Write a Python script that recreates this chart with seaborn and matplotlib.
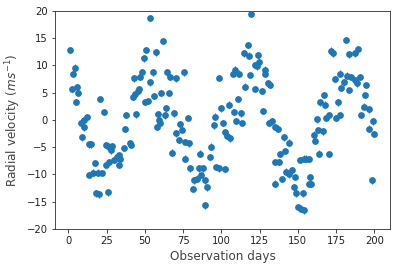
import numpy as np
import pandas as pd
import matplotlib
matplotlib.use("Agg")
import matplotlib.pyplot as plt
import seaborn as sns

days = [0.9, 2.0, 2.8, 4.1, 4.8, 5.5, 6.5, 8.3, 8.7, 10.0, 10.0, 11.8, 13.3, 13.7,
        14.6, 15.9, 17.2, 18.1, 19.4, 19.8, 20.9, 22.0, 23.0, 24.2, 24.6, 25.7,
        26.3, 26.3, 27.5, 28.6, 29.6, 31.8, 32.9, 32.9, 34.0, 36.1, 36.8, 37.9,
        39.9, 41.2, 42.0, 42.7, 43.8, 44.0, 45.5, 46.4, 47.0, 48.2, 49.5, 50.0,
        50.5, 51.8, 53.1, 53.6, 55.1, 55.8, 56.9, 58.0, 58.6, 59.5, 60.1, 60.8,
        61.6, 62.9, 64.0, 64.5, 65.6, 66.7, 67.8, 68.8, 70.4, 70.4, 72.1, 72.7,
        74.3, 75.4, 76.0, 76.5, 78.0, 78.6, 79.7, 81.2, 81.9, 84.1, 85.2, 85.8,
        86.9, 88.0, 89.1, 89.5, 90.6, 92.8, 93.5, 95.0, 95.6, 96.5, 98.2, 98.7,
        100.0, 100.8, 102.2, 102.2, 103.7, 104.8, 105.9, 107.4, 108.0, 109.2,
        109.6, 110.7, 111.8, 113.1, 113.5, 114.6, 115.7, 117.2, 117.8, 118.9,
        119.6, 121.8, 121.8, 123.3, 123.7, 124.8, 126.6, 127.0, 128.3, 128.8,
        130.3, 130.9, 132.0, 133.1, 134.8, 135.3, 135.3, 137.0, 137.9, 138.6,
        139.7, 140.7, 141.8, 142.3, 144.4, 144.4, 146.2, 147.3, 147.9, 148.8,
        150.1, 151.6, 152.3, 153.1, 153.8, 153.8, 155.6, 157.1, 157.1, 158.2,
        158.8, 160.3, 161.0, 162.5, 163.2, 163.6, 164.7, 166.2, 166.9, 168.0,
        168.6, 170.1, 170.6, 172.0, 173.0, 174.1, 174.9, 176.0, 177.3, 177.8,
        178.4, 179.9, 181.5, 182.1, 183.2, 183.7, 185.0, 187.1, 187.1, 188.7,
        189.3, 190.8, 191.5, 193.0, 193.7, 194.8, 196.3, 196.7, 198.5, 198.9,
        200.0]

velocity = [12.8, 5.7, 8.5, 9.6, 3.3, 6.0, 5.0, -0.5, -3.2, 0.0, -1.4, 0.5, -4.5, -10.1,
            -4.5, -9.7, -7.9, -13.5, -9.7, -13.7, 3.8, -9.8, 1.4, -8.3, -4.6, -13.3,
            -4.9, -7.7, -5.6, -4.8, -7.4, -6.8, -6.5, -8.3, -7.2, -5.2, -1.7, 0.9,
            -4.3, -4.6, 4.2, 7.6, 4.7, 1.0, 5.3, 5.7, 7.9, 8.8, 11.3, 3.3,
            12.8, 3.5, 6.9, 18.7, 8.7, 4.4, 12.4, -1.3, 1.0, 0.0, -0.6, 4.9,
            14.5, 0.8, 2.1, 8.7, 4.9, 7.9, -6.0, 1.2, 7.6, -2.5, -3.7, -0.8,
            -1.9, 8.7, -7.1, -4.1, 0.3, -4.3, -8.9, -12.7, -11.1, -10.8, -8.9, -6.2,
            -10.1, -8.9, -11.1, -15.7, -12.4, -6.8, -4.9, -1.0, 0.6, -8.7, -8.9, 7.7,
            2.1, -0.6, -2.2, -9.0, -2.9, 2.8, -3.4, 8.5, 1.4, 9.2,
            -0.2, 3.8, 8.5, 1.2, -0.6, 12.2, 6.1, 13.7, 11.8, 8.2,
            19.4, 10.1, 5.7, 9.8, 11.9, 10.7, 5.3, 1.6, 8.5, 9.2,
            6.7, -0.6, 6.4, -0.3, -7.7, -1.3, -11.7, -1.6, -7.7, -6.3,
            -10.9, -3.2, -5.7, -9.5, -4.2, -10.0, -9.2, -12.3, -10.5, -13.5,
            -16.0, -7.4, -16.3, -13.5, -7.1, -16.6, -7.1, -7.2, -11.7, -10.5,
            -11.7, -2.7, -3.9, 0.1, -1.9, -6.2, 3.2, -2.1, 4.6, 2.8,
            0.3, 0.9, -6.3, 12.7, 12.2, 7.5, 0.3, 3.2, 0.9, 8.5,
            5.9, 6.9, 14.7, 8.1, 12.0, 5.5, 7.9, 12.2, 7.3, 6.7,
            13.0, 7.9, 0.9, 2.4, 4.6, 6.4, 1.9, -1.6, -11.1, -0.3,
            -2.6]

velocity_err = 0.6

df = pd.DataFrame({"day": days, "rv": velocity})

sns.set_style("ticks")
plt.rcParams["font.family"] = ["DejaVu Sans"]

fig = plt.figure(figsize=(396 / 72, 266 / 72), dpi=72)
ax = fig.add_axes([0.139, 0.140, 0.846, 0.819])

ax.errorbar(df["day"], df["rv"], yerr=velocity_err, fmt="none",
            ecolor="#1f77b4", elinewidth=1.0, zorder=2)
sns.scatterplot(data=df, x="day", y="rv", ax=ax, color="#1f77b4",
                s=46, linewidth=0, zorder=3)

ax.set_ylim(-20, 20)
ax.set_xlim(-8.8, 210.3)
ax.set_xticks([0, 25, 50, 75, 100, 125, 150, 175, 200])
ax.set_yticks([-20, -15, -10, -5, 0, 5, 10, 15, 20])
ax.set_xlabel("Observation days", fontsize=12, color="#444444")
ax.set_ylabel(r"Radial velocity ($ms^{-1}$)", fontsize=12, color="#444444")
ax.tick_params(labelsize=10, colors="#222222")
for s in ax.spines.values():
    s.set_color("#222222")

fig.savefig("out.png", dpi=72)
